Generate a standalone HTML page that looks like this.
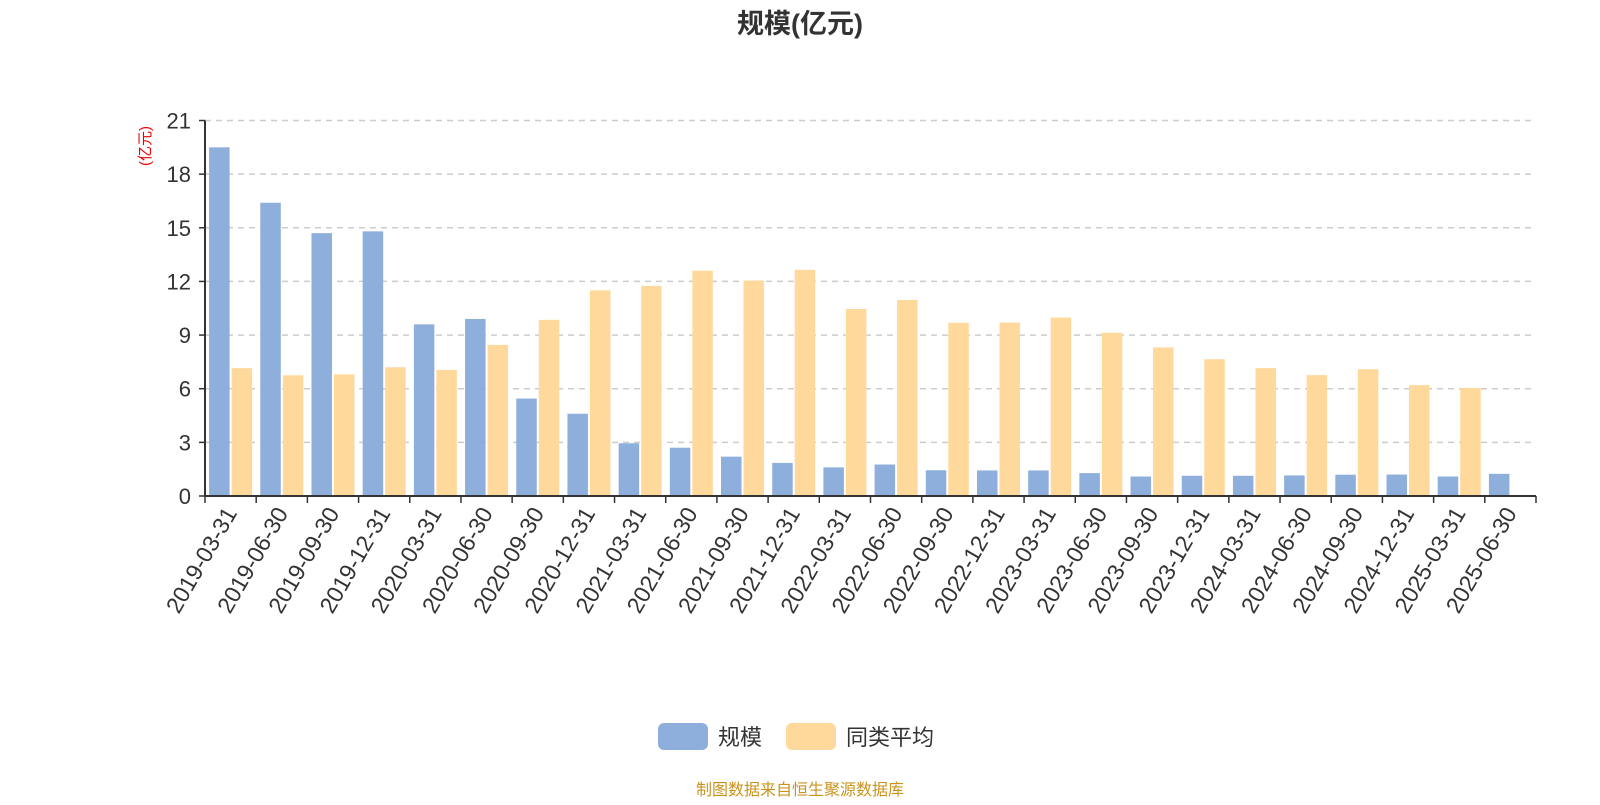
<!DOCTYPE html>
<html><head><meta charset="utf-8"><style>
body{margin:0;background:#fff;}
svg text{font-family:"Liberation Sans","Noto Sans CJK SC",sans-serif;}
</style></head><body>
<svg id="chart" width="1600" height="800" viewBox="0 0 1600 800" xmlns="http://www.w3.org/2000/svg">
<text x="800" y="33" text-anchor="middle" font-size="27" font-weight="bold" fill="#333">规模(亿元)</text>
<text transform="translate(150,146) rotate(-90)" text-anchor="middle" font-size="15" fill="#e00">(亿元)</text>
<g id="grid"></g><g id="bars"></g><g id="axes"></g>
<g>
<g><rect x="658" y="723" width="50" height="27" rx="6" fill="#8eaedb"/><text x="718" y="745" font-size="22" fill="#333">规模</text></g>
<g><rect x="786" y="723" width="50" height="27" rx="6" fill="#ffd99b"/><text x="846" y="745" font-size="22" fill="#333">同类平均</text></g>
</g>
<text x="800" y="795" text-anchor="middle" font-size="16" fill="#c8941e">制图数据来自恒生聚源数据库</text>
</svg>
<script>
const categories=["2019-03-31","2019-06-30","2019-09-30","2019-12-31","2020-03-31","2020-06-30","2020-09-30","2020-12-31","2021-03-31","2021-06-30","2021-09-30","2021-12-31","2022-03-31","2022-06-30","2022-09-30","2022-12-31","2023-03-31","2023-06-30","2023-09-30","2023-12-31","2024-03-31","2024-06-30","2024-09-30","2024-12-31","2025-03-31","2025-06-30"];
const sizeValues=[19.5,16.4,14.7,14.8,9.6,9.9,5.45,4.6,2.95,2.7,2.2,1.85,1.6,1.76,1.44,1.43,1.43,1.28,1.09,1.13,1.13,1.15,1.19,1.2,1.09,1.24];
const avgValues=[7.15,6.75,6.8,7.2,7.05,8.45,9.85,11.5,11.75,12.6,12.05,12.65,10.46,10.96,9.69,9.7,9.98,9.13,8.31,7.65,7.15,6.76,7.09,6.2,6.04,null];
const yTicks=[0,3,6,9,12,15,18,21];
const NS="http://www.w3.org/2000/svg";
const X0=205,X1=1536,Y0=496,Y1=120.5,YMAX=21;
const bw=(X1-X0)/categories.length;
function y(v){return Y0-(Y0-Y1)*v/YMAX;}
function x(i){return X0+i*bw;}
function mk(tag,attrs,parent){const e=document.createElementNS(NS,tag);for(const k in attrs)e.setAttribute(k,attrs[k]);parent.appendChild(e);return e;}
const grid=document.getElementById('grid'),bars=document.getElementById('bars'),axes=document.getElementById('axes');
yTicks.forEach(t=>{
  if(t>0){const g=mk('line',{x1:X0,x2:X1,y1:y(t),y2:y(t),stroke:'#ccc','stroke-width':1.5,'stroke-dasharray':'6,5'},grid);
  
  }
  const tk=mk('line',{x1:X0-6,x2:X0,y1:y(t),y2:y(t),stroke:'#333','stroke-width':1.5},axes);
  
  
  const lb=mk('text',{x:X0-14,y:y(t)+8,'text-anchor':'end','font-size':22,fill:'#333'},axes);
  lb.textContent=t;
  
  
});
const inner=bw*0.08,w=(bw-2*inner-2)/2;
categories.forEach((c,i)=>{
  const b=mk('rect',{x:x(i)+inner,y:y(sizeValues[i]),width:w,height:Y0-y(sizeValues[i]),fill:'#8eaedb'},bars);
  
  
  if(avgValues[i]!=null){
    const a=mk('rect',{x:x(i)+inner+w+2,y:y(avgValues[i]),width:w,height:Y0-y(avgValues[i]),fill:'#ffd99b'},bars);
    
    
  }
  const tx=x(i)+bw/2;
  const lb=mk('text',{transform:`translate(${tx+7},${Y0+17}) rotate(-60)`,'text-anchor':'end','font-size':23,fill:'#333'},axes);
  lb.textContent=c;
  
  
});
for(let i=0;i<=categories.length;i++){
  const t=mk('line',{x1:x(i),x2:x(i),y1:Y0,y2:Y0+7,stroke:'#333','stroke-width':1.5},axes);
  
  
}
const xa=mk('line',{x1:X0,x2:X1,y1:Y0,y2:Y0,stroke:'#333','stroke-width':2},axes);


const ya=mk('line',{x1:X0,x2:X0,y1:Y1,y2:Y0,stroke:'#333','stroke-width':2},axes);


</script>
</body></html>
